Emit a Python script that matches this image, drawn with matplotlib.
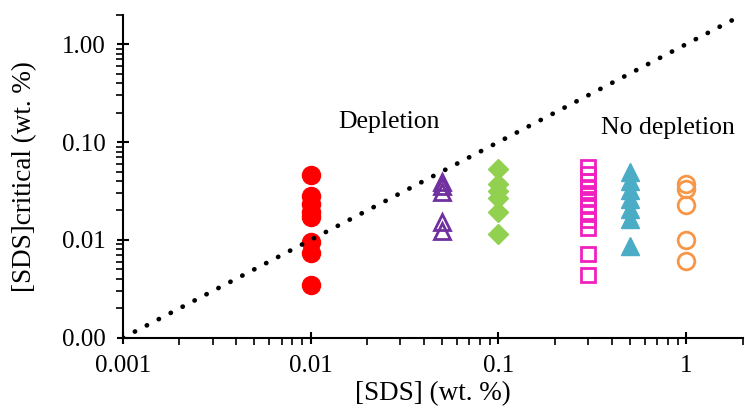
import matplotlib
matplotlib.use("Agg")
import matplotlib.pyplot as plt
from matplotlib.ticker import FixedLocator, FuncFormatter, LogLocator, NullFormatter
import numpy as np

plt.rcParams["font.family"] = ["Liberation Serif", "DejaVu Serif"]

# ── Critical SDS concentration for each bulk SDS level (wt. %) ───────────────
sds_001 = [0.0464, 0.0283, 0.0234, 0.0194, 0.0173, 0.0096, 0.0074, 0.0035]
sds_005 = [0.0394, 0.0358, 0.0311, 0.0153, 0.0124]
sds_01  = [0.0535, 0.0376, 0.0318, 0.027, 0.0194, 0.0116]
sds_03  = [0.056, 0.0475, 0.0403, 0.035, 0.0304, 0.0264, 0.0229, 0.0194,
           0.0161, 0.0133, 0.0072, 0.0044]
sds_05  = [0.0498, 0.0403, 0.0326, 0.0264, 0.0208, 0.0165, 0.0087]
sds_1   = [0.0376, 0.0334, 0.0229, 0.0100, 0.0061]

SERIES = [
    (0.01, sds_001, dict(marker="o", ms=13, mfc="#FF0000", mec="#FF0000")),
    (0.05, sds_005, dict(marker="^", ms=11, mfc="none", mec="#7030A0", mew=2)),
    (0.1,  sds_01,  dict(marker="D", ms=10, mfc="#92D050", mec="#92D050")),
    (0.3,  sds_03,  dict(marker="s", ms=10, mfc="none", mec="#F020C0", mew=2)),
    (0.5,  sds_05,  dict(marker="^", ms=13, mfc="#4BACC6", mec="#4BACC6")),
    (1.0,  sds_1,   dict(marker="o", ms=12, mfc="none", mec="#F79646", mew=2)),
]

diag = [0.001, 2.0]

fig = plt.figure(figsize=(7.45, 4.08), dpi=100)
ax = fig.add_axes([0.165, 0.172, 0.832, 0.792])

for x, ys, style in SERIES:
    ax.plot([x] * len(ys), ys, linestyle="none", **style)

# 1:1 line separating the two regimes
ax.plot(diag, diag, color="black", linewidth=3.4,
        linestyle=(0, (0.05, 2.8)), dash_capstyle="round", zorder=3)

ax.set_xscale("log")
ax.set_yscale("log")
ax.set_xlim(0.001, 2)
ax.set_ylim(0.001, 2)

ax.xaxis.set_major_locator(FixedLocator([0.001, 0.01, 0.1, 1]))
ax.yaxis.set_major_locator(FixedLocator([0.001, 0.01, 0.1, 1]))
ax.xaxis.set_minor_locator(LogLocator(base=10, subs=np.arange(2, 10)))
ax.yaxis.set_minor_locator(LogLocator(base=10, subs=np.arange(2, 10)))
ax.xaxis.set_minor_formatter(NullFormatter())
ax.yaxis.set_minor_formatter(NullFormatter())
ax.xaxis.set_major_formatter(FuncFormatter(lambda v, _: f"{v:g}"))
ax.yaxis.set_major_formatter(FuncFormatter(lambda v, _: f"{v:.2f}"))

for side in ("top", "right"):
    ax.spines[side].set_visible(False)
for side in ("left", "bottom"):
    ax.spines[side].set_linewidth(1.5)

ax.tick_params(which="major", direction="inout", length=9, width=1.5,
               labelsize=18, pad=8)
ax.tick_params(which="minor", direction="out", length=5, width=1.2)

ax.set_xlabel("[SDS] (wt. %)", fontsize=19.5, labelpad=3)
ax.set_ylabel("[SDS]critical (wt. %)", fontsize=19.5, labelpad=18)

ax.text(0.026, 0.16, "Depletion", fontsize=18.5, ha="center", va="center")
ax.text(0.80, 0.14, "No depletion", fontsize=18.5, ha="center", va="center")

fig.savefig("out.png", dpi=100)
